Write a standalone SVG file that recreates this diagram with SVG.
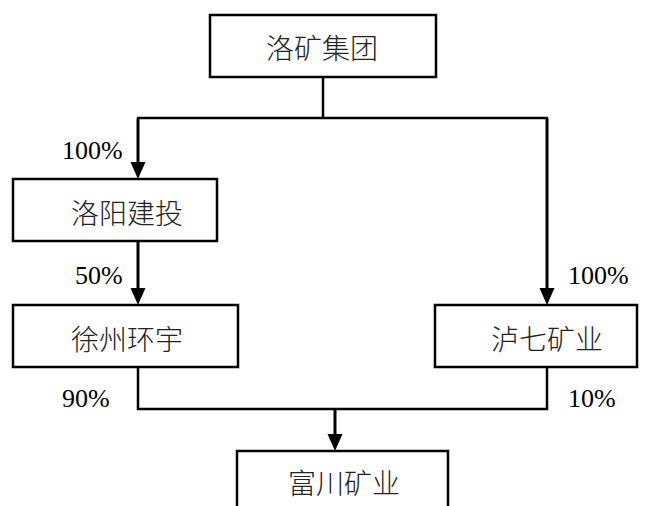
<svg xmlns="http://www.w3.org/2000/svg" width="650" height="506" viewBox="0 0 650 506">
<style>
.box{fill:#fff;stroke:#000;stroke-width:2.5}
.ln{fill:none;stroke:#000;stroke-width:2.5}
.ar{fill:none;stroke:#000;stroke-width:3}
.cn{font-family:"Noto Sans CJK SC",sans-serif;font-size:28px;font-weight:300;fill:#222;text-anchor:middle;dominant-baseline:central}
.pc{font-family:"Liberation Serif",serif;font-size:26px;fill:#000}
.hd{fill:#000}
</style>
<g id="connectors">
<path class="ln" d="M323,77 V118 M137,118 H548"/>
<path class="ar" d="M138,118 V165"/>
<path class="ar" d="M138,241 V291"/>
<path class="ar" d="M547,118 V291"/>
<path class="ln" d="M138,367 V409 H547 V367"/>
<path class="ar" d="M335,409 V437"/>
<path class="hd" d="M130.5,162 L145.5,162 L138,179 Z"/>
<path class="hd" d="M130.5,288 L145.5,288 L138,305 Z"/>
<path class="hd" d="M539.5,288 L554.5,288 L547,305 Z"/>
<path class="hd" d="M327.5,434 L342.5,434 L335,451 Z"/>
</g>
<g id="n1"><rect class="box" x="210" y="15" width="226" height="62"/><text class="cn" x="322" y="47">洛矿集团</text></g>
<g id="n2"><rect class="box" x="13" y="179" width="204" height="62"/><text class="cn" x="127" y="212">洛阳建投</text></g>
<g id="n3"><rect class="box" x="13" y="305" width="225" height="62"/><text class="cn" x="127" y="338">徐州环宇</text></g>
<g id="n4"><rect class="box" x="435" y="305" width="202" height="62"/><text class="cn" x="547" y="338">泸七矿业</text></g>
<g id="n5"><rect class="box" x="237" y="451" width="211" height="62"/><text class="cn" x="344" y="482">富川矿业</text></g>
<g id="labels">
<text class="pc" x="62" y="159">100%</text>
<text class="pc" x="75" y="284">50%</text>
<text class="pc" x="62" y="407">90%</text>
<text class="pc" x="568" y="284">100%</text>
<text class="pc" x="568" y="407">10%</text>
</g>
</svg>
